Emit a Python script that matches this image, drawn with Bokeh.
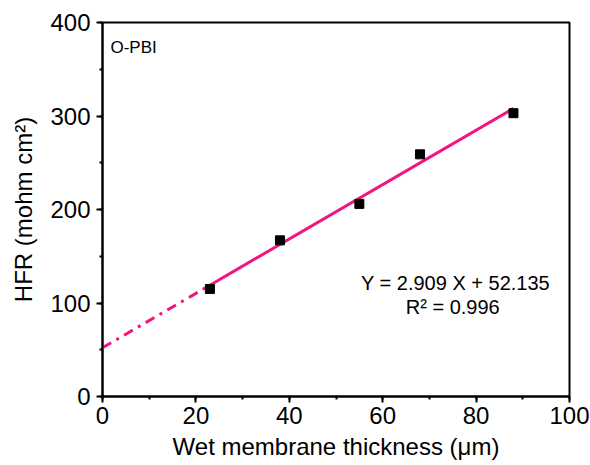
from bokeh.plotting import figure
from bokeh.models import SingleIntervalTicker, Range1d
from bokeh.core.properties import value
from bokeh.embed import file_html
from bokeh.resources import INLINE

thickness = [23, 38, 55, 68, 88]
hfr = [115, 167, 206, 259, 303]
slope = 2.909
intercept = 52.135
x_fit_solid = [23, 88]
x_fit_dash = [0, 23]
eq_text = "Y = 2.909 X + 52.135"
r2_text = "R² = 0.996"
sample_label = "O-PBI"

FONT = "Liberation Sans"
PINK = "#F0157F"

p = figure(width=590, height=465, output_backend="svg", toolbar_location=None,
           x_range=Range1d(0, 100), y_range=Range1d(0, 400))
p.min_border_left = 102
p.min_border_right = 21
p.min_border_top = 22
p.min_border_bottom = 69
p.background_fill_color = "white"
p.border_fill_color = "white"
p.grid.visible = False
p.outline_line_color = "black"
p.outline_line_width = 2

p.xaxis.ticker = SingleIntervalTicker(interval=20, num_minor_ticks=2)
p.yaxis.ticker = SingleIntervalTicker(interval=100, num_minor_ticks=2)
for ax in (p.xaxis, p.yaxis):
    ax.axis_line_width = 2
    ax.major_tick_line_width = 2
    ax.minor_tick_line_width = 2
    ax.major_tick_out = 6
    ax.major_tick_in = 0
    ax.minor_tick_out = 3
    ax.minor_tick_in = 0
    ax.major_label_text_font = FONT
    ax.major_label_text_font_size = "24px"
    ax.major_label_text_color = "black"
    ax.axis_label_text_font = FONT
    ax.axis_label_text_font_size = "24px"
    ax.axis_label_text_font_style = "normal"
    ax.axis_label_text_color = "black"

p.xaxis.axis_label = "Wet membrane thickness (μm)"
p.yaxis.axis_label = "HFR (mohm cm²)"
p.xaxis.major_label_standoff = 4
p.yaxis.major_label_standoff = 6
p.xaxis.axis_label_standoff = 6
p.yaxis.axis_label_standoff = 10

y_solid = [slope * x + intercept for x in x_fit_solid]
y_dash = [slope * x + intercept for x in x_fit_dash]
p.line(x_fit_dash, y_dash, line_color=PINK, line_width=3, line_dash="10 6 3 6")
p.line(x_fit_solid, y_solid, line_color=PINK, line_width=3)

p.scatter(thickness, hfr, marker="square", size=9, fill_color="black", line_color="black")

p.text(x=[1.7], y=[383], text=[sample_label], text_font=value(FONT), text_font_size="17px",
       text_color="black", text_align="left", text_baseline="top")
p.text(x=[75.6], y=[121], text=[eq_text], text_font=value(FONT), text_font_size="20px",
       text_color="black", text_align="center", text_baseline="middle")
p.text(x=[75.0], y=[96], text=[r2_text], text_font=value(FONT), text_font_size="20px",
       text_color="black", text_align="center", text_baseline="middle")

open("out.html", "w").write(file_html(p, INLINE))
